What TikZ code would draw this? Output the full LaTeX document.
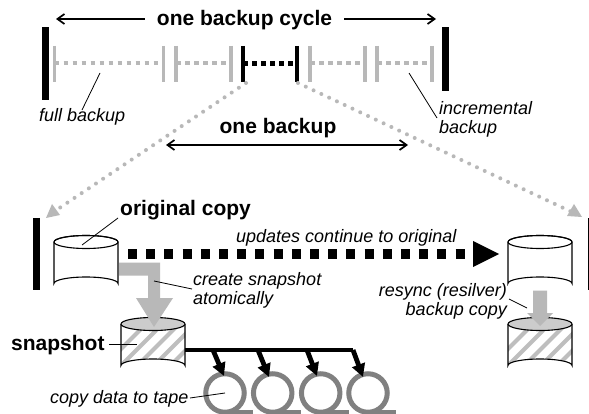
\documentclass[tikz,border=0pt]{standalone}
\usepackage{fontspec}
\setmainfont{Liberation Sans}
\usetikzlibrary{arrows.meta,patterns}
\definecolor{lg}{HTML}{B8B8B8}
\definecolor{hg}{HTML}{BEBEBE}
\definecolor{tp}{HTML}{808080}
\tikzset{
  bar/.style={line width=7pt},
  tickg/.style={line width=3.5pt,draw=lg},
  tickb/.style={line width=3.5pt,draw=black},
  dashg/.style={line width=4pt,draw=lg,dash pattern=on 4.5pt off 4.5pt},
  dashb/.style={line width=4.3pt,draw=black,dash pattern=on 4.5pt off 4.5pt},
  span/.style={line width=1.7pt,-{Straight Barb[length=7pt,width=10pt,line width=1.7pt]}},
  zoomline/.style={line width=4pt,draw=lg,line cap=round,dash pattern=on 0pt off 8.6pt},
  leader/.style={line width=0.8pt},
  big/.style={font=\fontsize{21}{24}\selectfont\bfseries,inner sep=0pt},
  note/.style={font=\fontsize{18}{21}\selectfont\itshape,inner sep=0pt},
  feed/.style={line width=4.8pt,-{Triangle[length=13pt,width=13pt]}},
  reel/.style={draw=tp,line width=5pt,circle,minimum size=38.5pt,inner sep=0pt,fill=none},
  tail/.style={draw=tp,line width=4.5pt},
}
\newcommand{\cyl}[5]{%
  \path[fill=#5,draw=black,line width=1.1pt] (#1,#3) -- (#1,#4-6.5) arc[start angle=180,end angle=360,x radius={(#2-#1)/2},y radius=6.5] -- (#2,#3) arc[start angle=0,end angle=-180,x radius={(#2-#1)/2},y radius=6.5] -- cycle;
}
\begin{document}
\begin{tikzpicture}[x=1pt,y=-1pt]
\useasboundingbox (0,0) rectangle (589,414);
\fill[white] (0,0) rectangle (589,414);
% upper bars
\draw[bar] (45.5,27.5) -- (45.5,100);
\draw[bar] (445.5,27.5) -- (445.5,91);
% gray ticks and dashes
\foreach \a/\b in {54.5/163.5,176/231,310/365,377/432}{
  \draw[tickg] (\a,46) -- (\a,82);
  \draw[tickg] (\b,46) -- (\b,82);
  \draw[dashg] (\a,63.5) -- (\b,63.5);
}
\draw[tickb] (243,46) -- (243,82);
\draw[tickb] (297,46) -- (297,82);
\draw[dashb] (243,63.5) -- (297,63.5);
% zoom lines
\coordinate (zl0) at (246,83); \coordinate (zl1) at (52,213);
\coordinate (zr0) at (298,83); \coordinate (zr1) at (574,213);
\draw[zoomline] (zl0) -- (zl1);
\draw[zoomline] (zr0) -- (zr1);
\fill[lg] (46,218) -- (52,204) -- (60,215) -- cycle;
\fill[lg] (582,217) -- (567,216) -- (574,204) -- cycle;
% labels and span arrows
\node[big] (cycle) at (244.5,20) {one backup cycle};
\coordinate (cl) at (56,19); \coordinate (cr) at (436,19);
\draw[span] (cycle.west) ++(-12,-1) -- (cl);
\draw[span] (cycle.east) ++(12,-1) -- (cr);
\node[big] (one) at (278,128) {one backup};
\coordinate (ol) at (166,145); \coordinate (or) at (408,145);
\draw[line width=1.7pt,{Straight Barb[length=7pt,width=10pt,line width=1.7pt]}-{Straight Barb[length=7pt,width=10pt,line width=1.7pt]}] (ol) -- (or);
\node[note,anchor=west] (full) at (39,117) {full backup};
\draw[leader] (100,73) -- (82,110);
\node[note,anchor=west] (inc1) at (439,108) {incremental};
\node[note,anchor=west] (inc2) at (439,129) {backup};
\draw[leader] (409,73) -- (437,118);
% lower bars
\draw[bar] (36.5,218) -- (36.5,290);
\draw[bar] (591.5,218) -- (591.5,290);
% cylinders
\cyl{54}{118}{242}{290}{white}
\draw[line width=1.1pt] (54,242) arc[start angle=180,end angle=-180,x radius=32,y radius=6.5];
\cyl{508}{572}{242}{290}{white}
\draw[line width=1.1pt] (508,242) arc[start angle=180,end angle=-180,x radius=32,y radius=6.5];
\begin{scope}
\path[clip] (121,324) -- (121,365.5) arc[start angle=180,end angle=360,x radius=32,y radius=6.5] -- (185,324) -- cycle;
\foreach \k in {0,...,6}{\draw[line width=4pt,hg] (85+\k*16.5,385) -- (85+\k*16.5+65,320);}
\end{scope}
\begin{scope}
\path[clip] (508,324) -- (508,365.5) arc[start angle=180,end angle=360,x radius=32,y radius=6.5] -- (572,324) -- cycle;
\foreach \k in {0,...,6}{\draw[line width=4pt,hg] (472+\k*16.5,385) -- (472+\k*16.5+65,320);}
\end{scope}
\draw[line width=1.1pt] (121,324) -- (121,365.5) arc[start angle=180,end angle=360,x radius=32,y radius=6.5] -- (185,324);
\draw[line width=1.1pt] (508,324) -- (508,365.5) arc[start angle=180,end angle=360,x radius=32,y radius=6.5] -- (572,324);
\filldraw[fill=black!20,line width=1.1pt] (153,324) ellipse[x radius=32,y radius=6.5];
\filldraw[fill=black!20,line width=1.1pt] (540,324) ellipse[x radius=32,y radius=6.5];
% gray flow arrows
\fill[lg] (119,262.5) -- (160,262.5) -- (160,298) -- (173,298) -- (154,327) -- (136,298) -- (148,298) -- (148,275.5) -- (119,275.5) -- cycle;
\fill[lg] (533,290.5) -- (547,290.5) -- (547,313) -- (553,313) -- (540,326) -- (527,313) -- (533,313) -- cycle;
% updates arrow
\draw[line width=9pt,dash pattern=on 9pt off 9.2pt] (128,254) -- (465,254);
\fill (473,241) -- (499,254) -- (473,267) -- cycle;
% text
\node[big,anchor=west] (orig) at (120,210) {original copy};
\node[big,anchor=west] (snap) at (11,345) {snapshot};
\node[note,anchor=west] (upd) at (236,238) {updates continue to original};
\node[note,anchor=west] (cr1) at (193,281) {create snapshot};
\node[note,anchor=west] (cr2) at (193,300) {atomically};
\node[note,anchor=east] (rs1) at (507,292) {resync (resilver)};
\node[note,anchor=east] (rs2) at (507,311) {backup copy};
\node[note,anchor=west] (cd) at (50,399) {copy data to tape};
\draw[leader] (118,218) -- (82,245);
\draw[leader] (109,344) -- (137,344);
\draw[leader] (192,289) -- (154,281);
\draw[leader] (509,299) -- (527,308);
% tape feed
\foreach \x/\t in {225/a,272.7/b,320.7/c,368/d}{
  \node[reel] (reel\t) at (\x,393) {};
  \draw[tail] (reel\t.center) ++(-2,19) -- ++(30,0);
}
\draw[leader] (190,398) -- (reela.center);
\draw[line width=4.3pt] (185,350) -- (353,350);
\coordinate (fa) at (213,350); \coordinate (fb) at (258,350); \coordinate (fc) at (307,350); \coordinate (fd) at (353,350);
\draw[feed] (fa) -- (224,376);
\draw[feed] (fb) -- (269,377);
\draw[feed] (fc) -- (317,376);
\draw[feed] (fd) -- (363,377);
\end{tikzpicture}
\end{document}
